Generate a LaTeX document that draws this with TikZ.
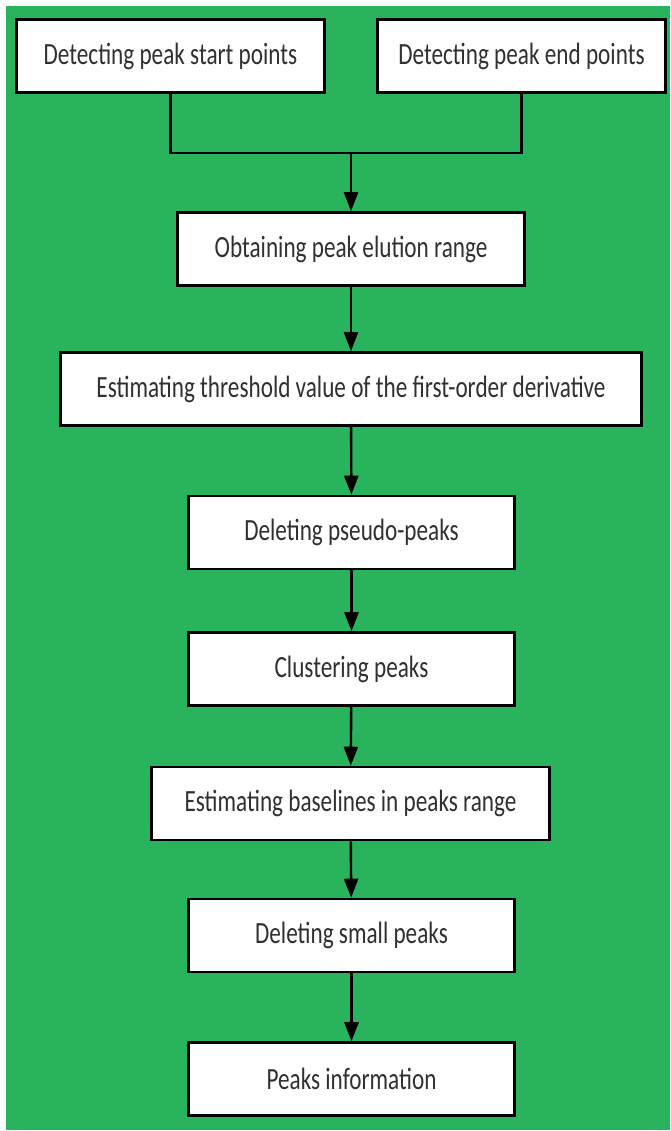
\documentclass[tikz,border=0pt]{standalone}
\usepackage{fontspec}
\usepackage{graphicx}
\setmainfont{Carlito}
\usetikzlibrary{arrows.meta}
\definecolor{bggreen}{RGB}{41,179,92}
\definecolor{txtgray}{RGB}{48,48,48}
\tikzset{
  stepbox/.style={draw=black, line width=2.6pt, fill=white, inner sep=0pt,
    minimum height=73pt, text=txtgray,
    font=\fontsize{23.2}{27}\selectfont},
  flow/.style={line width=2.4pt, draw=black},
  arr/.style={flow, -{Triangle[length=19pt,width=14pt]}}
}
\newcommand{\tl}[1]{\scalebox{1}[1.33]{#1}}
\begin{document}
\begin{tikzpicture}[x=1pt,y=-1pt]
\useasboundingbox (0,0) rectangle (670,1131);
\fill[white] (0,0) rectangle (670,1131);
\fill[bggreen] (6,6) rectangle (670,1130);
\node[stepbox, minimum width=308pt] (b1) at (170.5,56) {\tl{Detecting peak start points}};
\node[stepbox, minimum width=288pt] (b2) at (521.5,56) {\tl{Detecting peak end points}};
\node[stepbox, minimum width=347pt] (b3) at (351,249) {\tl{Obtaining peak elution range}};
\node[stepbox, minimum width=581pt] (b4) at (351,389) {\tl{Estimating threshold value of the first-order derivative}};
\node[stepbox, minimum width=326pt] (b5) at (351.5,532.5) {\tl{Deleting pseudo-peaks}};
\node[stepbox, minimum width=326pt] (b6) at (351.5,669) {\tl{Clustering peaks}};
\node[stepbox, minimum width=398pt] (b7) at (350.5,803.5) {\tl{Estimating baselines in peaks range}};
\node[stepbox, minimum width=326pt] (b8) at (351.5,935.5) {\tl{Deleting small peaks}};
\node[stepbox, minimum width=326pt] (b9) at (351.5,1079) {\tl{Peaks information}};
\coordinate (j) at (351,153);
\draw[flow] (b1.south) |- (j) -| (b2.south);
\draw[arr] (j) -- (b3.north);
\draw[arr] (b3) -- (b4);
\draw[arr] (b4) -- (b5);
\draw[arr] (b5) -- (b6);
\draw[arr] (b6) -- (b7);
\draw[arr] (b7) -- (b8);
\draw[arr] (b8) -- (b9);
\end{tikzpicture}
\end{document}
